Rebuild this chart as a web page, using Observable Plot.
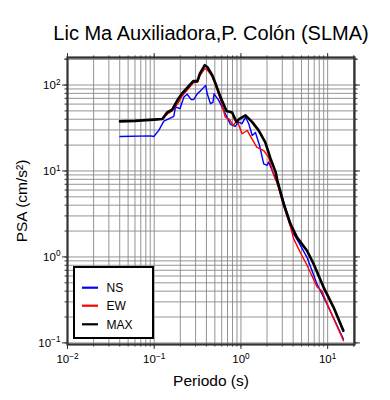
<!DOCTYPE html>
<html><head><meta charset="utf-8">
<script src="https://cdn.jsdelivr.net/npm/d3@7"></script>
<script src="https://cdn.jsdelivr.net/npm/@observablehq/plot@0.6"></script>
<style>body{margin:0;background:#fff;} #chart{width:390px;height:400px;}</style>
</head><body><div id="chart"></div>
<script>
const title = "Lic Ma Auxiliadora,P. Colón (SLMA)";
const xLabel = "Periodo (s)";
const yLabel = "PSA (cm/s²)";
const seriesNames = ["NS", "EW", "MAX"];
const seriesColors = ["#0000ff", "#ff0000", "#000000"];

const nsPeriod = [0.0403, 0.0909, 0.099, 0.113, 0.129, 0.147, 0.168, 0.176, 0.198, 0.22, 0.24, 0.267, 0.285, 0.315, 0.34, 0.392, 0.409, 0.445, 0.476, 0.49, 0.554, 0.634, 0.69, 0.757, 0.86, 0.94, 1.03, 1.13, 1.23, 1.35, 1.47, 1.64, 1.83, 2.0, 2.08, 2.38, 2.84, 4.06, 4.64, 5.78, 7.53, 9.8, 15.2];
const nsPSA = [25.2, 25.6, 25.2, 29.7, 38, 40.5, 43.2, 55.5, 53, 72.4, 78, 67.6, 67.6, 79.4, 85, 99, 79, 60.7, 63, 79, 66.3, 50.7, 42.4, 34.8, 33, 37, 35.5, 42.4, 35.5, 25.9, 28, 19.8, 12.1, 11.6, 12.7, 9.3, 5.9, 1.85, 1.48, 0.99, 0.484, 0.283, 0.111];

const ewPeriod = [0.0403, 0.06, 0.08, 0.1, 0.124, 0.142, 0.161, 0.185, 0.211, 0.251, 0.282, 0.315, 0.336, 0.383, 0.409, 0.467, 0.509, 0.581, 0.66, 0.73, 0.82, 0.9, 1.03, 1.18, 1.52, 1.83, 2.08, 2.38, 2.61, 3.11, 3.72, 4.06, 4.86, 5.78, 7.53, 8.6, 9.8, 15.2];
const ewPSA = [37.8, 38.3, 39.0, 39.6, 40.2, 46, 50, 60, 75, 92, 106, 108, 128, 155, 150, 125, 100, 68, 42.4, 40, 33.9, 38.8, 27.1, 29.6, 18.9, 17.3, 14.5, 9.0, 7.3, 3.9, 2.25, 1.62, 1.12, 0.8, 0.45, 0.4, 0.29, 0.106];

const maxPeriod = [0.0403, 0.06, 0.08, 0.1, 0.124, 0.142, 0.161, 0.185, 0.211, 0.251, 0.282, 0.315, 0.336, 0.383, 0.409, 0.467, 0.509, 0.581, 0.681, 0.792, 0.888, 0.96, 1.13, 1.35, 1.6, 1.91, 2.19, 2.52, 2.61, 3.11, 3.72, 4.43, 5.78, 6.89, 8.98, 11.7, 15.2];
const maxPSA = [37.8, 38.3, 39.0, 39.6, 40.2, 48.4, 51.6, 66.4, 80.7, 97.4, 111, 111, 136, 170, 162, 130, 104, 72.4, 49.8, 48, 37, 40.5, 44.4, 37, 29.7, 21.5, 14, 9.6, 8.0, 4.15, 2.43, 1.69, 1.18, 0.83, 0.443, 0.259, 0.138];

const xMajorTicks = [0.01, 0.1, 1, 10];
const yMajorTicks = [0.1, 1, 10, 100];
const xDomain = [0.01, 20.4];
const yDomain = [0.0958, 209];

const xAllTicks = [];
for (const d of xMajorTicks) for (let k = 1; k <= 9; k++) { const v = d * k; if (v <= xDomain[1]) xAllTicks.push(v); }
xAllTicks.push(20);
const yAllTicks = [];
for (const d of yMajorTicks) for (let k = 1; k <= 9; k++) { const v = d * k; if (v <= yDomain[1]) yAllTicks.push(v); }
yAllTicks.push(200);

const toRows = (name, px, py) => px.map((p, i) => ({series: name, period: p, psa: py[i]}));
const nsRows = toRows("NS", nsPeriod, nsPSA);
const ewRows = toRows("EW", ewPeriod, ewPSA);
const maxRows = toRows("MAX", maxPeriod, maxPSA);

const expFmt = d => "10^" + Math.round(Math.log10(d));
const axisColor = "#333";
const font = "'Liberation Sans', Arial, Helvetica, sans-serif";

const svg = Plot.plot({
  width: 390,
  height: 400,
  marginLeft: 67,
  marginRight: 36,
  marginTop: 57,
  marginBottom: 56,
  style: {fontFamily: font, background: "#fff", color: "#000"},
  x: {type: "log", domain: xDomain, axis: null},
  y: {type: "log", domain: yDomain, axis: null},
  color: {domain: seriesNames, range: seriesColors},
  marks: [
    Plot.gridX(xAllTicks, {stroke: "#888", strokeOpacity: 1, strokeWidth: 0.9}),
    Plot.gridY(yAllTicks, {stroke: "#888", strokeOpacity: 1, strokeWidth: 0.9}),
    Plot.line(nsRows, {x: "period", y: "psa", stroke: "series", strokeWidth: 1.4}),
    Plot.line(ewRows, {x: "period", y: "psa", stroke: "series", strokeWidth: 1.4}),
    Plot.line(maxRows, {x: "period", y: "psa", stroke: "series", strokeWidth: 2.6}),
    Plot.frame({stroke: axisColor, strokeWidth: 2.2}),
    Plot.axisX(xMajorTicks, {anchor: "bottom", tickSize: 5, tickPadding: 5, tickFormat: expFmt, fontSize: 11.5, stroke: axisColor, label: null}),
    Plot.axisX(xAllTicks, {anchor: "bottom", tickSize: 2.5, text: null, stroke: axisColor, label: null}),
    Plot.axisX(xMajorTicks, {anchor: "top", tickSize: 5, text: null, stroke: axisColor, label: null}),
    Plot.axisX(xAllTicks, {anchor: "top", tickSize: 2.5, text: null, stroke: axisColor, label: null}),
    Plot.axisY(yMajorTicks, {anchor: "left", tickSize: 5, tickPadding: 2, tickFormat: expFmt, fontSize: 11.5, stroke: axisColor, label: null}),
    Plot.axisY(yAllTicks, {anchor: "left", tickSize: 2.5, text: null, stroke: axisColor, label: null}),
    Plot.axisY(yMajorTicks, {anchor: "right", tickSize: 5, text: null, stroke: axisColor, label: null}),
    Plot.axisY(yAllTicks, {anchor: "right", tickSize: 2.5, text: null, stroke: axisColor, label: null}),
    Plot.text([title], {frameAnchor: "top", lineAnchor: "bottom", dy: -18, fontSize: 20, fill: "#000"}),
    Plot.text([xLabel], {frameAnchor: "bottom", lineAnchor: "bottom", dy: 41, fontSize: 15.5, fill: "#000"}),
    Plot.text([yLabel], {frameAnchor: "left", textAnchor: "middle", lineAnchor: "middle", rotate: -90, dx: -45, fontSize: 15.5, fill: "#000"})
  ]
});

// superscript exponents on tick labels
d3.select(svg).selectAll('g[aria-label$="tick label"] text').each(function () {
  const m = this.textContent.match(/^10\^(-?\d+)$/);
  if (!m) return;
  const s = d3.select(this);
  s.text(null);
  s.append("tspan").text("10");
  s.append("tspan").attr("dy", "-0.5em").attr("font-size", "0.72em").text(m[1].replace("-", "\u2212"));
});

// legend box
const lg = d3.select(svg).append("g").attr("font-size", 12).attr("font-family", font).attr("text-anchor", "start");
lg.append("rect").attr("x", 74).attr("y", 267).attr("width", 79).attr("height", 71)
  .attr("fill", "#fff").attr("stroke", "#000").attr("stroke-width", 2);
seriesNames.forEach((name, i) => {
  const yy = [287.7, 305.7, 324.3][i];
  lg.append("line").attr("x1", 82).attr("x2", 98).attr("y1", yy).attr("y2", yy)
    .attr("stroke", seriesColors[i]).attr("stroke-width", 2.2);
  lg.append("text").attr("x", 106.5).attr("y", yy).attr("dy", "0.36em").attr("text-anchor", "start").attr("fill", "#000").text(name);
});

document.getElementById("chart").appendChild(svg);
</script>
</body></html>
